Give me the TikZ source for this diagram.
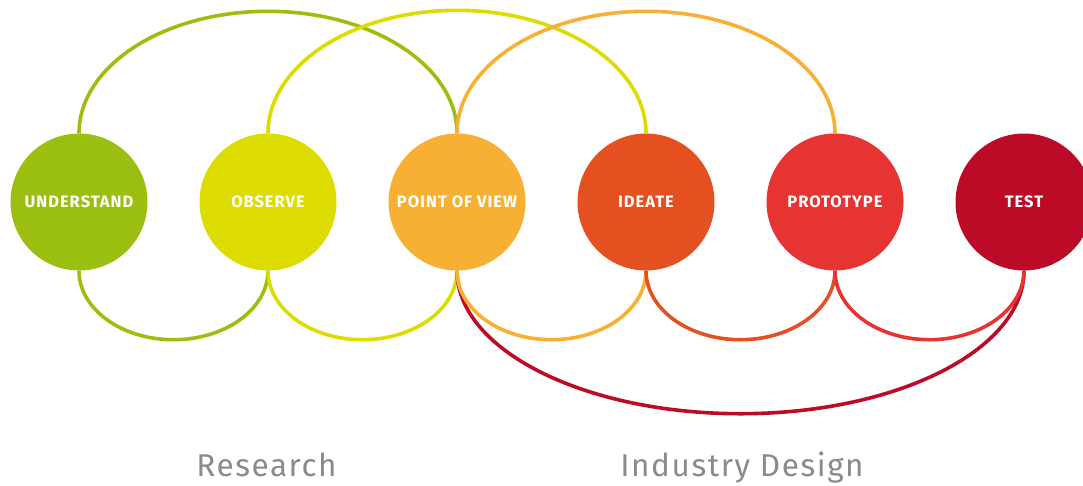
\documentclass[tikz,border=0pt]{standalone}
\usepackage{fontspec}
\setmainfont{Fira Sans}
\newfontfamily\labelfont[LetterSpace=6]{Fira Sans}
\newfontfamily\phasefont[LetterSpace=5]{Fira Sans}
\usetikzlibrary{backgrounds}
\definecolor{cU}{HTML}{9BBF11}
\definecolor{cO}{HTML}{DDDC00}
\definecolor{cP}{HTML}{F7B033}
\definecolor{cI}{HTML}{E55021}
\definecolor{cR}{HTML}{E53431}
\definecolor{cT}{HTML}{BB0B27}
\definecolor{cGray}{HTML}{8A8A8A}
\tikzset{
  stage/.style={circle, minimum size=137pt, inner sep=0pt, fill=#1, text=white,
    font=\labelfont\fontsize{16.5}{18}\selectfont\bfseries},
  link/.style={line width=3.6pt, draw=#1},
  phase/.style={text=cGray, font=\phasefont\fontsize{31.5}{34}\selectfont, anchor=base}
}
\begin{document}
\begin{tikzpicture}[x=1pt,y=1pt]
\useasboundingbox (0,0) rectangle (1083,-485);
\node[stage=cU] (u) at (79,-202)   {UNDERSTAND};
\node[stage=cO] (o) at (268,-202)  {OBSERVE};
\node[stage=cP] (p) at (457,-202)  {POINT OF VIEW};
\node[stage=cI] (i) at (646,-202)  {IDEATE};
\node[stage=cR] (r) at (835,-202)  {PROTOTYPE};
\node[stage=cT] (t) at (1024,-202) {TEST};
\begin{scope}[on background layer]
  % top arcs
  \draw[link=cU] (u.north) arc[start angle=180, end angle=0, x radius=189, y radius=122];
  \draw[link=cO] (o.north) arc[start angle=180, end angle=0, x radius=189, y radius=123];
  \draw[link=cP] (p.north) arc[start angle=180, end angle=0, x radius=189, y radius=122];
  % bottom arcs
  \draw[link=cU] (u.south) arc[start angle=180, end angle=360, x radius=94.5, y radius=69];
  \draw[link=cO] (o.south) arc[start angle=180, end angle=360, x radius=94.5, y radius=69];
  \draw[link=cT] (p.south) arc[start angle=180, end angle=360, x radius=283.5, y radius=143];
  \draw[link=cP] (p.south) arc[start angle=180, end angle=360, x radius=94.5, y radius=69];
  \draw[link=cI] (i.south) arc[start angle=180, end angle=360, x radius=94.5, y radius=69];
  \draw[link=cR] (r.south) arc[start angle=180, end angle=360, x radius=94.5, y radius=69];
\end{scope}
\node[phase] (res) at (266.5,-476) {Research};
\node[phase] (ind) at (742,-476) {Industry Design};
\end{tikzpicture}
\end{document}
